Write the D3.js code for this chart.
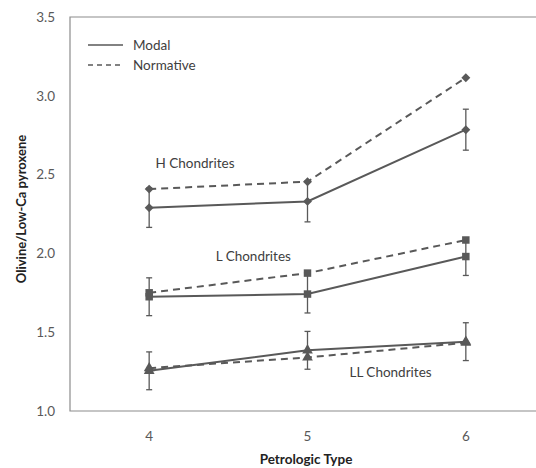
<!DOCTYPE html>
<html>
<head>
<meta charset="utf-8">
<script src="https://cdnjs.cloudflare.com/ajax/libs/d3/7.8.5/d3.min.js"></script>
<style>
  body { margin: 0; background: #fff; }
  text { font-family: Lato, "Open Sans", sans-serif; }
</style>
</head>
<body>
<svg id="chart"></svg>
<script>
// petrologic types on the x axis
var types = [4, 5, 6];
var yTicks = [1.0, 1.5, 2.0, 2.5, 3.0, 3.5];

// modal values (solid) with error bars
var hModal = [2.29, 2.33, 2.785];
var lModal = [1.725, 1.742, 1.98];
var llModal = [1.255, 1.385, 1.44];
var hErr = [0.125, 0.13, 0.13];
var lErr = [0.12, 0.12, 0.12];
var llErr = [0.12, 0.12, 0.12];

// normative values (dashed)
var hNorm = [2.408, 2.455, 3.115];
var lNorm = [1.75, 1.875, 2.085];
var llNorm = [1.272, 1.34, 1.433];

var groups = [
  {name: "H Chondrites", symbol: d3.symbolSquare, rot: 45, size: 40, modal: hModal, err: hErr, norm: hNorm},
  {name: "L Chondrites", symbol: d3.symbolSquare, rot: 0, size: 56, modal: lModal, err: lErr, norm: lNorm},
  {name: "LL Chondrites", symbol: d3.symbolTriangle, rot: 0, size: 50, modal: llModal, err: llErr, norm: llNorm}
];

var width = 536, height = 468;
var col = "#595959";

var svg = d3.select("#chart")
    .attr("width", width)
    .attr("height", height);

var x = d3.scaleLinear().domain([3.5, 6.5]).range([70, 545]);
var y = d3.scaleLinear().domain([1.0, 3.5]).range([411, 17]);

// plot area border (left, top, bottom)
svg.append("path")
    .attr("d", "M" + x(6.5) + "," + y(3.5) + "H" + x(3.5) + "V" + y(1.0) + "H" + x(6.5))
    .attr("fill", "none")
    .attr("stroke", "#8c8c8c")
    .attr("stroke-width", 1.2);

// y tick labels
svg.append("g").selectAll("text")
    .data(yTicks)
    .enter()
    .append("text")
    .attr("x", 55)
    .attr("y", function(d){ return y(d); })
    .attr("dy", "0.35em")
    .attr("text-anchor", "end")
    .attr("font-size", "13.5px")
    .attr("fill", col)
    .text(function(d){ return d.toFixed(1); });

// x tick labels
svg.append("g").selectAll("text")
    .data(types)
    .enter()
    .append("text")
    .attr("x", function(d){ return x(d); })
    .attr("y", 436)
    .attr("dy", "0.35em")
    .attr("text-anchor", "middle")
    .attr("font-size", "13.5px")
    .attr("fill", col)
    .text(function(d){ return d; });

// axis titles
svg.append("text")
    .attr("x", 306)
    .attr("y", 459)
    .attr("dy", "0.35em")
    .attr("text-anchor", "middle")
    .attr("font-size", "13.5px")
    .attr("font-weight", "bold")
    .attr("fill", "#222")
    .text("Petrologic Type");

svg.append("text")
    .attr("transform", "translate(21,209)rotate(-90)")
    .attr("dy", "0.35em")
    .attr("text-anchor", "middle")
    .attr("font-size", "13px")
    .attr("font-weight", "bold")
    .attr("fill", "#222")
    .text("Olivine/Low-Ca pyroxene");

var line = d3.line()
    .x(function(d, i){ return x(types[i]); })
    .y(function(d){ return y(d); });

groups.forEach(function(g) {
  // error bars on modal
  var eb = svg.append("g").attr("stroke", col).attr("stroke-width", 1.3);
  g.modal.forEach(function(v, i) {
    var cx = x(types[i]);
    eb.append("line").attr("x1", cx).attr("x2", cx).attr("y1", y(v + g.err[i])).attr("y2", y(v - g.err[i]));
    eb.append("line").attr("x1", cx - 3).attr("x2", cx + 3).attr("y1", y(v + g.err[i])).attr("y2", y(v + g.err[i]));
    eb.append("line").attr("x1", cx - 3).attr("x2", cx + 3).attr("y1", y(v - g.err[i])).attr("y2", y(v - g.err[i]));
  });

  svg.append("path")
      .attr("d", line(g.norm))
      .attr("fill", "none")
      .attr("stroke", col)
      .attr("stroke-width", 2)
      .attr("stroke-dasharray", "7,5");

  svg.append("path")
      .attr("d", line(g.modal))
      .attr("fill", "none")
      .attr("stroke", col)
      .attr("stroke-width", 2);

  var sym = d3.symbol().type(g.symbol).size(g.size);
  [g.norm, g.modal].forEach(function(vals) {
    svg.append("g").selectAll("path")
        .data(vals)
        .enter()
        .append("path")
        .attr("d", sym)
        .attr("transform", function(d, i){ return "translate(" + x(types[i]) + "," + y(d) + ")rotate(" + g.rot + ")"; })
        .attr("fill", col);
  });
});

// group labels
var labels = [
  {text: "H Chondrites", x: 4.04, y: 2.57},
  {text: "L Chondrites", x: 4.42, y: 1.98},
  {text: "LL Chondrites", x: 5.265, y: 1.245}
];
svg.append("g").selectAll("text")
    .data(labels)
    .enter()
    .append("text")
    .attr("x", function(d){ return x(d.x); })
    .attr("y", function(d){ return y(d.y); })
    .attr("dy", "0.35em")
    .attr("font-size", "13.5px")
    .attr("fill", "#404040")
    .text(function(d){ return d.text; });

// legend
var legend = svg.append("g");
[{label: "Modal", dash: null, yy: 45}, {label: "Normative", dash: "5,4", yy: 65}].forEach(function(l) {
  legend.append("line")
      .attr("x1", 88).attr("x2", 123)
      .attr("y1", l.yy).attr("y2", l.yy)
      .attr("stroke", col)
      .attr("stroke-width", 1.5)
      .attr("stroke-dasharray", l.dash);
  legend.append("text")
      .attr("x", 133)
      .attr("y", l.yy)
      .attr("dy", "0.35em")
      .attr("font-size", "13.5px")
      .attr("fill", "#404040")
      .text(l.label);
});
</script>
</body>
</html>
